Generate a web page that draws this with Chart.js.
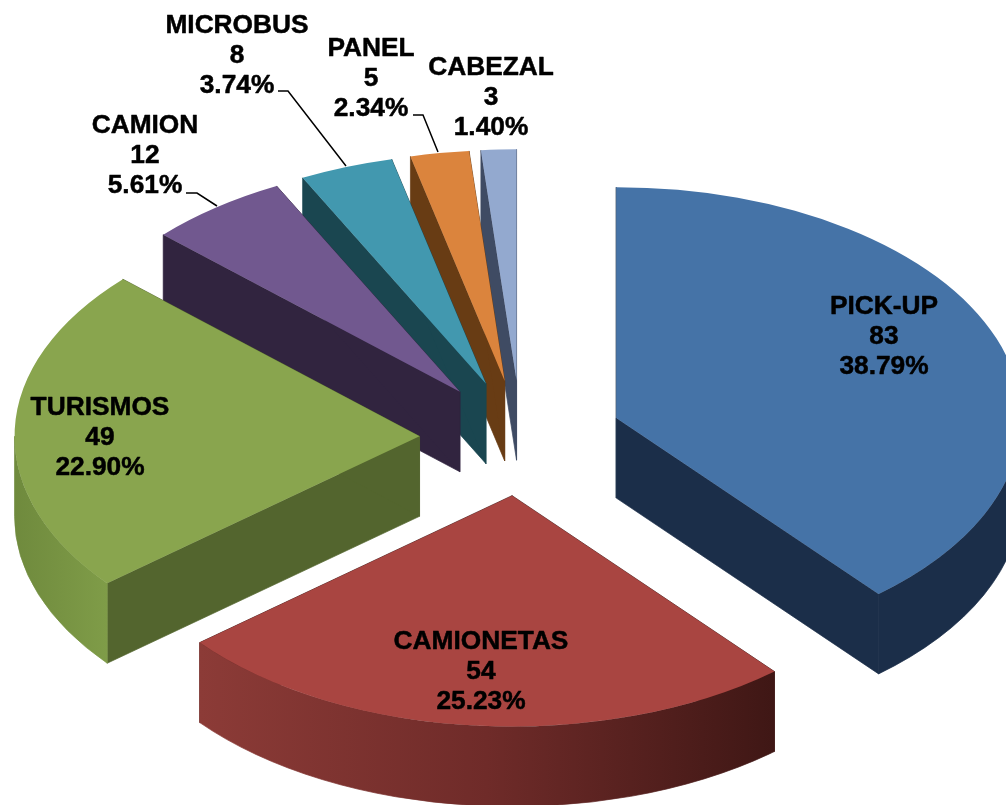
<!DOCTYPE html>
<html>
<head>
<meta charset="utf-8">
<style>html,body{margin:0;padding:0;background:#fff}canvas{display:block}</style>
<script src="https://cdn.jsdelivr.net/npm/chart.js@4"></script>
</head>
<body>
<canvas id="c" width="1006" height="805"></canvas>
<script>
const categories = ['PICK-UP','CAMIONETAS','TURISMOS','CAMION','MICROBUS','PANEL','CABEZAL'];
const counts = [83,54,49,12,8,5,3];
const percents = ['38.79%','25.23%','22.90%','5.61%','3.74%','2.34%','1.40%'];

const topColors = ['#4573a7','#a94541','#89a54e','#71588f','#4298af','#db843d','#93a9cf'];
const wallColors = ['#1b2e49','#431a18','#53652e','#31243f','#1a4650','#683c14','#3f4b63'];
const rimStops = [
  ['#1b2e49','#1b2e49'],
  ['#8c3b37','#6f2b29','#3f1715'],
  ['#6f8a3d','#7f9c48'],
  ['#31243f','#31243f'],['#1a4650','#1a4650'],['#683c14','#683c14'],['#3f4b63','#3f4b63']
];

const RADIUS = 405, EXPLODE = 101.5, SQUASH = 0.57, DEPTH = 80;
const labelLayout = [[884,305],[481,640],[100,406],[145,124],[237,24],[371,47],[491,66]];
const leaderLayout = {3:[[186,193],[197,193],[217,206]],4:[[278,91],[288,91],[346,166]],5:[[413,115],[423,115],[438,152]]};
const FONT = 'bold 26.3px "Liberation Sans", Arial, sans-serif', LINE = 30.2, TEXT_NUDGE = 1.5;

const pie3d = {
  id:'pie3d',
  beforeDatasetDraw(chart){
    const ctx = chart.ctx, arcs = chart.getDatasetMeta(0).data;
    const order = arcs.map((a,i)=>i).sort((p,q)=>
      Math.sin((arcs[p].startAngle+arcs[p].endAngle)/2)-Math.sin((arcs[q].startAngle+arcs[q].endAngle)/2));
    order.forEach(i=>{
      const a = arcs[i], mid=(a.startAngle+a.endAngle)/2;
      const x = a.x+Math.cos(mid)*EXPLODE, y0 = a.y;
      const yOff = Math.sin(mid)*EXPLODE;
      const sy = v=>y0+SQUASH*(yOff+v);
      const R = a.outerRadius;
      const apex=[x,sy(0)];
      // radial walls
      ctx.fillStyle = wallColors[i];
      ctx.strokeStyle = wallColors[i];
      ctx.lineWidth = 0.7;
      [a.startAngle,a.endAngle].forEach(t=>{
        const ex=x+Math.cos(t)*R, ey=sy(Math.sin(t)*R);
        ctx.beginPath();
        ctx.moveTo(apex[0],apex[1]);ctx.lineTo(ex,ey);ctx.lineTo(ex,ey+DEPTH);ctx.lineTo(apex[0],apex[1]+DEPTH);ctx.closePath();
        ctx.fill();ctx.stroke();
      });
      // outer rim: only the near half of the ellipse faces the viewer
      const s=Math.max(a.startAngle,0), e=Math.min(a.endAngle,Math.PI);
      if(e>s){
        ctx.beginPath();
        ctx.ellipse(x,sy(0),R,R*SQUASH,0,s,e,false);
        ctx.ellipse(x,sy(0)+DEPTH,R,R*SQUASH,0,e,s,true);
        ctx.closePath();
        const x1=x+Math.cos(s)*R, x2=x+Math.cos(e)*R;
        const g=ctx.createLinearGradient(x2,0,x1,0);
        rimStops[i].forEach((c,k,l)=>g.addColorStop(k/(l.length-1),c));
        ctx.fillStyle=g;ctx.strokeStyle=g;ctx.fill();ctx.stroke();
      }
      // top face, drawn by the library's arc element
      ctx.save();
      ctx.translate(a.x,a.y);ctx.scale(1,SQUASH);ctx.translate(-a.x,-a.y);
      ctx.translate(Math.cos(mid)*EXPLODE,Math.sin(mid)*EXPLODE);
      a.draw(ctx);
      ctx.restore();
    });
    return false;
  },
  afterDatasetsDraw(chart){
    const ctx=chart.ctx;
    ctx.save();
    ctx.strokeStyle='#000';ctx.lineWidth=1.5;
    Object.values(leaderLayout).forEach(p=>{
      ctx.beginPath();p.forEach((q,k)=>k?ctx.lineTo(q[0],q[1]):ctx.moveTo(q[0],q[1]));ctx.stroke();
    });
    ctx.fillStyle='#000';ctx.font=FONT;ctx.textAlign='center';ctx.textBaseline='middle';
    ctx.lineWidth=0.5;ctx.lineJoin='round';
    categories.forEach((name,i)=>{
      const [x,y]=labelLayout[i];
      [name,String(counts[i]),percents[i]].forEach((t,k)=>{
        ctx.fillText(t,x,y+TEXT_NUDGE+k*LINE);
        ctx.strokeText(t,x,y+TEXT_NUDGE+k*LINE);
      });
    });
    ctx.restore();
  }
};

new Chart(document.getElementById('c'),{
  type:'pie',
  data:{labels:categories,datasets:[{data:counts,backgroundColor:topColors,borderWidth:0}]},
  options:{
    responsive:false,animation:false,radius:RADIUS,
    layout:{padding:{left:36,top:71}},
    plugins:{legend:{display:false},tooltip:{enabled:false}}
  },
  plugins:[pie3d]
});
</script>
</body>
</html>
